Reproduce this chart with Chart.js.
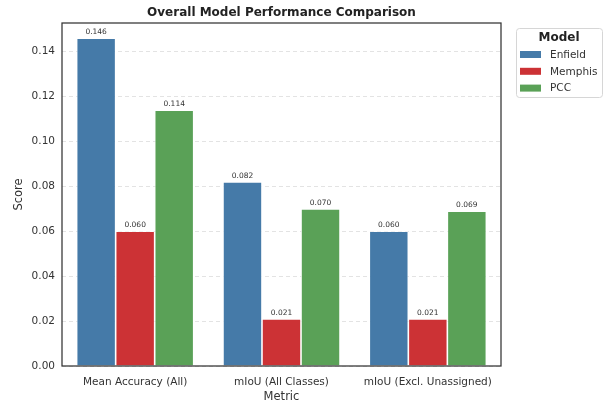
<!DOCTYPE html>
<html>
<head>
<meta charset="utf-8">
<script src="https://cdn.jsdelivr.net/npm/chart.js@4.4.1/dist/chart.umd.min.js"></script>
<style>
  html, body { margin: 0; padding: 0; background: #fff; }
  #wrap { width: 613px; height: 407px; position: relative; }
</style>
</head>
<body>
<div id="wrap"><canvas id="c" width="613" height="407"></canvas></div>
<script>
const categories = ["Mean Accuracy (All)", "mIoU (All Classes)", "mIoU (Excl. Unassigned)"];
const models = ["Enfield", "Memphis", "PCC"];
const enfield = [0.146, 0.082, 0.060];
const memphis = [0.060, 0.021, 0.021];
const pcc = [0.114, 0.070, 0.069];
const yTicks = [0.00, 0.02, 0.04, 0.06, 0.08, 0.10, 0.12, 0.14];
const colors = ["#457aa8", "#cc3235", "#5aa157"];
const titleText = "Overall Model Performance Comparison";

const FONT = "'DejaVu Sans', sans-serif";
const TXT = "#333333";

const frameAndLabels = {
  id: 'frameAndLabels',
  afterDatasetsDraw(chart) {
    const ctx = chart.ctx;
    const a = chart.chartArea;
    ctx.save();
    // value labels
    ctx.font = "7.5px " + FONT;
    ctx.fillStyle = TXT;
    ctx.textAlign = 'center';
    ctx.textBaseline = 'bottom';
    chart.data.datasets.forEach((ds, i) => {
      chart.getDatasetMeta(i).data.forEach((bar, j) => {
        ctx.fillText(ds.data[j].toFixed(3), bar.x, bar.y - 2.5);
      });
    });
    // frame
    ctx.strokeStyle = '#333';
    ctx.lineWidth = 1.25;
    ctx.strokeRect(a.left, a.top, a.right - a.left, a.bottom - a.top);
    // title
    ctx.font = "bold 12px " + FONT;
    ctx.fillStyle = '#222';
    ctx.textBaseline = 'middle';
    ctx.fillText(titleText, (a.left + a.right) / 2, 12.5);
    // legend
    const lx = 516, ly = 28, lw = 86, lh = 69;
    ctx.beginPath();
    if (ctx.roundRect) ctx.roundRect(lx + 0.5, ly + 0.5, lw, lh, 3); else ctx.rect(lx + 0.5, ly + 0.5, lw, lh);
    ctx.fillStyle = 'rgba(255,255,255,0.8)';
    ctx.fill();
    ctx.strokeStyle = '#d6d6d6';
    ctx.lineWidth = 1;
    ctx.stroke();
    ctx.fillStyle = '#222';
    ctx.font = "bold 12px " + FONT;
    ctx.textAlign = 'center';
    ctx.fillText("Model", 559, 38);
    ctx.font = "10.5px " + FONT;
    ctx.textAlign = 'left';
    chart.data.datasets.forEach((ds, i) => {
      const cy = 54.5 + i * 16.8;
      ctx.fillStyle = ds.backgroundColor;
      ctx.fillRect(520, cy - 3.5, 21, 7);
      ctx.fillStyle = TXT;
      ctx.fillText(ds.label, 550, cy + 0.5);
    });
    ctx.restore();
  }
};

const seriesValues = [enfield, memphis, pcc];

new Chart(document.getElementById('c'), {
  type: 'bar',
  data: {
    labels: categories,
    datasets: models.map((m, i) => ({
      label: m,
      data: seriesValues[i],
      backgroundColor: colors[i],
      borderColor: '#ffffff',
      borderWidth: 0.8,
      categoryPercentage: 0.8,
      barPercentage: 1.0
    }))
  },
  options: {
    responsive: false,
    animation: false,
    devicePixelRatio: 1,
    layout: { padding: { left: 0, right: 112, top: 23, bottom: 0 } },
    plugins: { legend: { display: false }, title: { display: false }, tooltip: { enabled: false } },
    scales: {
      x: {
        grid: { display: false },
        border: { display: false },
        ticks: { color: TXT, font: { family: FONT, size: 10.5 }, padding: 2, maxRotation: 0 },
        title: { display: true, text: 'Metric', color: TXT, font: { family: FONT, size: 11.5 }, padding: { top: 0, bottom: 3 } },
        afterFit(s) { s.height = 41; }
      },
      y: {
        min: 0,
        max: 0.1528,
        afterBuildTicks(s) { s.ticks = yTicks.map(v => ({ value: v })); },
        ticks: { color: TXT, font: { family: FONT, size: 10.5 }, padding: 7, callback: v => v.toFixed(2) },
        grid: { color: '#dcdcdc', lineWidth: 0.8, drawTicks: false },
        border: { display: false, dash: [4, 3] },
        title: { display: true, text: 'Score', color: TXT, font: { family: FONT, size: 11.5 }, padding: { top: 12, bottom: 0 } },
        afterFit(s) { s.width = 62; }
      }
    }
  },
  plugins: [frameAndLabels]
});
</script>
</body>
</html>
